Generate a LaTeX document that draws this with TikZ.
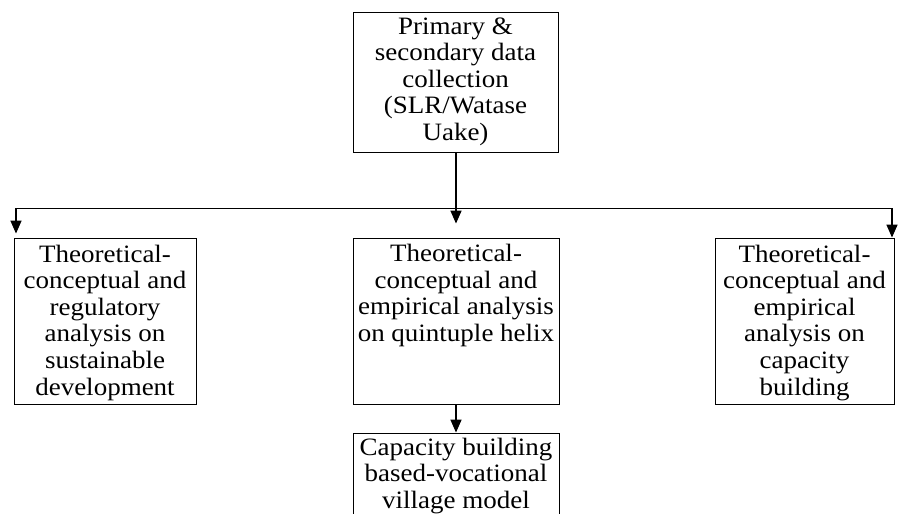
\documentclass[tikz,border=0pt]{standalone}
\usepackage{fontspec}
\setmainfont{Liberation Serif}[FakeStretch=1.08]
\usetikzlibrary{arrows.meta}

% Top-aligned text inside a fixed-size frame: width, height, first-line strut, text
\newcommand\cell[4]{\parbox[c][#2][t]{#1}{\centering\rule{0pt}{#3}#4}}

\begin{document}
\begin{tikzpicture}[x=1pt,y=-1pt,
  font=\fontsize{25}{26.6}\selectfont,
  box/.style={draw, line width=0.9pt, inner sep=0pt},
  link/.style={line width=1pt},
  arr/.style={line width=1.6pt, -{Triangle[width=11pt,length=13pt]}}]
  \useasboundingbox (0,0) rectangle (898,514);
  \clip (0,0) rectangle (898,514);

  % boxes
  \node[box] (top) at (455.5,82)
    {\cell{205pt}{140pt}{22pt}{Primary \&\\secondary data\\collection\\(SLR/Watase\\Uake)}};
  \node[box] (lft) at (105,321)
    {\cell{182pt}{166pt}{24pt}{Theoretical-\\conceptual and\\regulatory\\analysis on\\sustainable\\development}};
  \node[box] (mid) at (456,321)
    {\cell{206pt}{166pt}{23.5pt}{Theoretical-\\conceptual and\\empirical analysis\\on quintuple helix}};
  \node[box] (rgt) at (804.5,321)
    {\cell{179pt}{166pt}{24pt}{Theoretical-\\conceptual and\\empirical\\analysis on\\capacity\\building}};
  \node[box] (bot) at (456,483)
    {\cell{206pt}{100pt}{22pt}{Capacity building\\based-vocational\\village model}};

  % branching connectors
  \coordinate (bl) at (16,208);
  \coordinate (br) at (892,208);
  \draw[link] (bl) -- (br);
  \draw[arr, shorten >=4pt] (bl) -- (bl |- lft.north);
  \draw[arr] (br) -- (br |- rgt.north);
  \draw[arr, shorten >=14pt] (top.south -| mid.north) -- (mid.north);
  \draw[arr] (mid.south) -- (bot.north);
\end{tikzpicture}
\end{document}
